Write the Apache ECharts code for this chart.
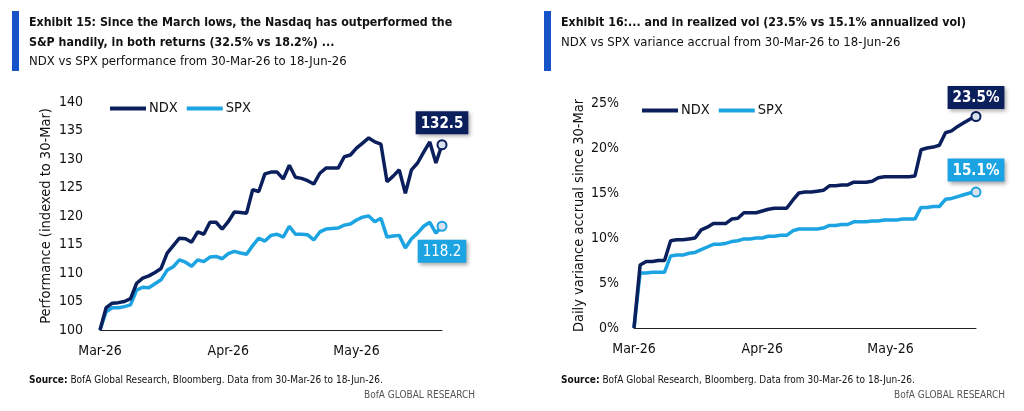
<!DOCTYPE html>
<html>
<head>
<meta charset="utf-8">
<script src="https://cdn.jsdelivr.net/npm/echarts@6/dist/echarts.min.js"></script>
<style>
  html, body { margin: 0; padding: 0; background: #fff; }
  #chart { width: 1024px; height: 411px; }
</style>
</head>
<body>
<div id="chart"></div>
<script>
// trading days 30-Mar-26 .. 18-Jun-26
var dates = [
  '30-Mar-26', '31-Mar-26', '01-Apr-26', '02-Apr-26', '06-Apr-26', '07-Apr-26', '08-Apr-26', '09-Apr-26',
  '10-Apr-26', '13-Apr-26', '14-Apr-26', '15-Apr-26', '16-Apr-26', '17-Apr-26', '20-Apr-26', '21-Apr-26',
  '22-Apr-26', '23-Apr-26', '24-Apr-26', '27-Apr-26', '28-Apr-26', '29-Apr-26', '30-Apr-26', '01-May-26',
  '04-May-26', '05-May-26', '06-May-26', '07-May-26', '08-May-26', '11-May-26', '12-May-26', '13-May-26',
  '14-May-26', '15-May-26', '18-May-26', '19-May-26', '20-May-26', '21-May-26', '22-May-26', '26-May-26',
  '27-May-26', '28-May-26', '29-May-26', '01-Jun-26', '02-Jun-26', '03-Jun-26', '04-Jun-26', '05-Jun-26',
  '08-Jun-26', '09-Jun-26', '10-Jun-26', '11-Jun-26', '12-Jun-26', '15-Jun-26', '16-Jun-26', '17-Jun-26',
  '18-Jun-26'
]

// Exhibit 15: performance indexed to 30-Mar
var ndxPerf = [
  100, 103.9, 104.7, 104.8, 105.0, 105.5, 108.2, 109.1, 109.5, 110.1,
  110.8, 113.5, 114.8, 116.1, 116.0, 115.4, 117.2, 116.8, 118.9, 118.9,
  117.7, 119.0, 120.7, 120.6, 120.5, 124.6, 124.3, 127.4, 127.7, 127.7,
  126.5, 128.9, 126.8, 126.6, 126.2, 125.6, 127.5, 128.4, 128.4, 128.4,
  130.4, 130.7, 131.9, 132.8, 133.7, 133.0, 132.6, 126.0, 127.0, 128.1,
  124.0, 128.1, 129.3, 131.2, 133.0, 129.3, 132.5
]
var spxPerf = [
  100, 103.2, 103.9, 103.9, 104.1, 104.4, 107.0, 107.5, 107.4, 108.1,
  108.8, 110.5, 111.1, 112.3, 111.9, 111.2, 112.3, 112.0, 112.8, 112.9,
  112.5, 113.4, 113.8, 113.5, 113.3, 114.8, 116.1, 115.6, 116.6, 116.8,
  116.3, 118.2, 116.8, 116.8, 116.7, 115.8, 117.2, 117.7, 117.8, 117.9,
  118.4, 118.6, 119.3, 119.8, 120.0, 119.0, 119.6, 116.3, 116.5, 116.6,
  114.4, 116.0, 117.0, 118.2, 118.9, 117.0, 118.2
]

// Exhibit 16: variance accrual, in %
var ndxVol = [
  0, 7.0, 7.4, 7.4, 7.5, 7.5, 9.7, 9.8, 9.8, 9.9,
  10.0, 10.9, 11.2, 11.6, 11.6, 11.6, 12.1, 12.2, 12.8, 12.8,
  12.8, 13.0, 13.2, 13.3, 13.3, 13.3, 14.2, 15.0, 15.1, 15.1,
  15.2, 15.3, 15.8, 15.8, 15.9, 15.9, 16.2, 16.2, 16.2, 16.3,
  16.7, 16.8, 16.8, 16.8, 16.8, 16.8, 16.9, 19.8, 20.0, 20.1,
  20.3, 21.7, 21.9, 22.4, 22.8, 23.2, 23.5
]
var spxVol = [
  0, 6.1, 6.1, 6.2, 6.2, 6.2, 8.0, 8.1, 8.1, 8.3,
  8.4, 8.7, 9.0, 9.3, 9.3, 9.4, 9.6, 9.7, 9.9, 9.9,
  10.0, 10.0, 10.2, 10.2, 10.3, 10.3, 10.8, 11.0, 11.0, 11.0,
  11.0, 11.1, 11.4, 11.4, 11.5, 11.5, 11.8, 11.8, 11.8, 11.9,
  11.9, 12.0, 12.0, 12.0, 12.1, 12.1, 12.1, 13.4, 13.4, 13.5,
  13.5, 14.3, 14.4, 14.6, 14.8, 15.0, 15.1
]

var perfTicks = { min: 100, max: 140, interval: 5 }
var volTicks = { min: 0, max: 25, interval: 5 }

var FONT = "'DejaVu Sans Condensed', 'Liberation Sans Narrow', sans-serif"
var NAVY = '#0b1f5c'
var SKY = '#1ba3e2'
var BAR = '#1652c8'

// mark the last point with a ring and a boxed value label
function withEnd (values, color, end) {
  var last = values.length - 1
  return values.map(function (v, i) {
    if (i !== last) return v
    return {
      value: v,
      symbol: 'circle',
      itemStyle: { color: '#d9e1ee', borderColor: color, borderWidth: 2 },
      label: {
        show: true,
        position: end.pos,
        distance: end.dist,
        formatter: end.text,
        color: '#fff',
        fontFamily: FONT,
        fontSize: 15,
        fontWeight: end.bold ? 'bold' : 'normal',
        backgroundColor: color,
        padding: [5, 5, 3, 5],
        shadowColor: 'rgba(0,0,0,0.35)',
        shadowBlur: 4,
        shadowOffsetX: 2,
        shadowOffsetY: 2
      }
    }
  })
}

function lineSeries (name, color, values, xi, end) {
  return {
    type: 'line',
    name: name,
    xAxisIndex: xi,
    yAxisIndex: xi,
    data: withEnd(values, color, end),
    color: color,
    symbol: 'none',
    symbolSize: 9,
    showSymbol: true,
    showAllSymbol: true,
    lineStyle: { width: 3.5, color: color },
    emphasis: { disabled: true },
    z: name === 'NDX' ? 3 : 2
  }
}

function xAxis (gi) {
  return {
    type: 'category',
    gridIndex: gi,
    data: dates,
    boundaryGap: false,
    axisLine: { lineStyle: { color: '#222', width: 1 } },
    axisTick: { show: false },
    axisLabel: {
      interval: 20,
      margin: 14,
      color: '#111',
      fontFamily: FONT,
      fontSize: 14,
      formatter: function (v) { return v.slice(3) }
    }
  }
}

function yAxis (gi, ticks, name, fmt, gap, margin) {
  return {
    type: 'value',
    gridIndex: gi,
    min: ticks.min,
    max: ticks.max,
    interval: ticks.interval,
    name: name,
    nameLocation: 'middle',
    nameGap: gap,
    nameTextStyle: { color: '#111', fontFamily: FONT, fontSize: 14.5 },
    axisLine: { show: false },
    axisTick: { show: false },
    splitLine: { show: false },
    axisLabel: { color: '#111', fontFamily: FONT, fontSize: 14, margin: margin, formatter: fmt }
  }
}

function legend (left, top) {
  return {
    left: left,
    top: top,
    icon: 'rect',
    itemWidth: 36,
    itemHeight: 4,
    itemGap: 9,
    selectedMode: false,
    textStyle: { color: '#111', fontFamily: FONT, fontSize: 14.5, padding: [0, 0, 0, -2] },
    data: ['NDX', 'SPX']
  }
}

function heading (left, top, text, bold) {
  return {
    left: left,
    top: top,
    text: text,
    textStyle: {
      color: '#111',
      fontFamily: FONT,
      fontSize: bold ? 12.3 : 13,
      fontWeight: bold ? 'bold' : 'normal',
      lineHeight: 20
    }
  }
}

function footer (left, top) {
  return {
    left: left,
    top: top,
    text: '{b|Source:} BofA Global Research, Bloomberg. Data from 30-Mar-26 to 18-Jun-26.',
    textStyle: {
      color: '#111',
      fontFamily: FONT,
      fontSize: 10,
      fontWeight: 'normal',
      rich: { b: { fontFamily: FONT, fontSize: 10, fontWeight: 'bold', color: '#111' } }
    }
  }
}

function brand (right, top) {
  return {
    right: right,
    top: top,
    text: 'BofA GLOBAL RESEARCH',
    textStyle: { color: '#555', fontFamily: FONT, fontSize: 10, fontWeight: 'normal' }
  }
}

var chart = echarts.init(document.getElementById('chart'))

chart.setOption({
  animation: false,
  backgroundColor: '#fff',
  title: [
    heading(24, 8, 'Exhibit 15: Since the March lows, the Nasdaq has outperformed the\nS&P handily, in both returns (32.5% vs 18.2%) ...', true),
    heading(24, 47, 'NDX vs SPX performance from 30-Mar-26 to 18-Jun-26', false),
    heading(556, 8, 'Exhibit 16:... and in realized vol (23.5% vs 15.1% annualized vol)', true),
    heading(556, 28, 'NDX vs SPX variance accrual from 30-Mar-26 to 18-Jun-26', false),
    footer(24, 370),
    brand(544, 385),
    footer(556, 370),
    brand(14, 385)
  ],
  graphic: [
    { type: 'rect', shape: { x: 12, y: 11, width: 7, height: 60 }, style: { fill: BAR } },
    { type: 'rect', shape: { x: 544, y: 11, width: 7, height: 60 }, style: { fill: BAR } }
  ],
  legend: [legend(105, 96), legend(637, 98)],
  grid: [
    { left: 100, right: 582, top: 102, bottom: 81 },
    { left: 634, right: 48, top: 103, bottom: 83 }
  ],
  xAxis: [xAxis(0), xAxis(1)],
  yAxis: [
    yAxis(0, perfTicks, 'Performance (indexed to 30-Mar)', '{value}', 46, 17),
    yAxis(1, volTicks, 'Daily variance accrual since 30-Mar', '{value}%', 45, 15)
  ],
  series: [
    lineSeries('NDX', NAVY, ndxPerf, 0, { pos: 'top', dist: 5, text: '132.5', bold: true }),
    lineSeries('SPX', SKY, spxPerf, 0, { pos: 'bottom', dist: 8, text: '118.2', bold: false }),
    lineSeries('NDX', NAVY, ndxVol, 1, { pos: 'top', dist: 2, text: '23.5%', bold: true }),
    lineSeries('SPX', SKY, spxVol, 1, { pos: 'top', dist: 5, text: '15.1%', bold: true })
  ]
})
</script>
</body>
</html>
